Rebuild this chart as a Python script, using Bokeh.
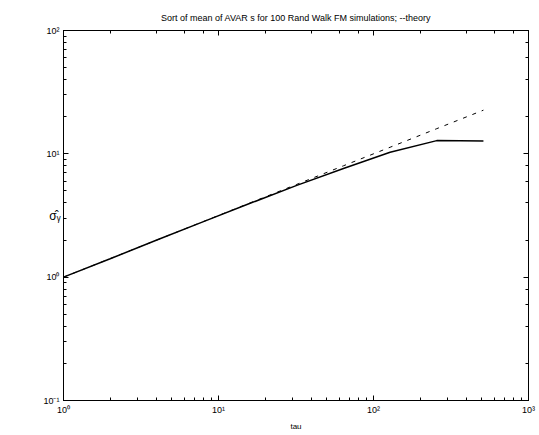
from bokeh.plotting import figure
from bokeh.models import LogAxis, CustomJSTickFormatter, Range1d, LogTicker
from bokeh.embed import file_html
from bokeh.resources import INLINE

# data
tau = [1, 2, 4, 8, 16, 32, 64, 128, 256, 512]
avar_mean = [1.0, 1.41, 2.0, 2.82, 3.97, 5.55, 7.6, 10.3, 12.8, 12.7]
theory = [1.0, 1.414, 2.0, 2.828, 4.0, 5.657, 8.0, 11.31, 16.0, 22.6]

title_text = "Sort of mean of AVAR s for 100 Rand Walk FM simulations; --theory"
x_label = "tau"
y_label = "\u03c3\u0302\u1d67"

FONT = "Liberation Sans"

p = figure(width=539, height=435, x_axis_type="log", y_axis_type="log",
           x_range=Range1d(1, 1000), y_range=Range1d(0.1, 100),
           output_backend="svg", toolbar_location=None,
           min_border_left=63, min_border_right=11, min_border_top=30,
           min_border_bottom=35)

p.title.text = title_text
p.title.align = "center"
p.title.text_font = FONT
p.title.text_font_size = "9px"
p.title.text_font_style = "normal"
p.title.text_color = "black"
p.title.standoff = 16

p.grid.visible = False
p.outline_line_color = "black"
p.outline_line_width = 1
p.background_fill_color = "white"
p.border_fill_color = "white"

fmt_code = """
const sup = {"-":"\u207b","0":"\u2070","1":"\u00b9","2":"\u00b2","3":"\u00b3",
             "4":"\u2074","5":"\u2075","6":"\u2076","7":"\u2077","8":"\u2078","9":"\u2079"};
const e = Math.round(Math.log10(tick));
return "10" + String(e).split("").map(c => sup[c]).join("");
"""

for ax in (p.xaxis[0], p.yaxis[0]):
    ax.formatter = CustomJSTickFormatter(code=fmt_code)
    ax.major_tick_in = 5
    ax.major_tick_out = 0
    ax.minor_tick_in = 3
    ax.minor_tick_out = 0
    ax.major_label_text_font = FONT
    ax.major_label_text_font_size = "9px"
    ax.major_label_text_color = "black"
    ax.major_label_standoff = 4
    ax.axis_line_color = "black"
    ax.major_tick_line_color = "black"
    ax.minor_tick_line_color = "black"
    ax.axis_label_text_color = "black"

p.xaxis.axis_label = x_label
p.xaxis.axis_label_text_font = FONT
p.xaxis.axis_label_text_font_size = "8px"
p.xaxis.axis_label_text_font_style = "normal"
p.xaxis.axis_label_standoff = 4

p.yaxis.axis_label = y_label
p.yaxis.axis_label_orientation = "horizontal"
p.yaxis.axis_label_text_font = FONT
p.yaxis.axis_label_text_font_size = "12px"
p.yaxis.axis_label_text_font_style = "normal"
p.yaxis.axis_label_standoff = -20

# mirrored tick marks on the right and top (no labels)
def mirror_axis():
    return LogAxis(ticker=LogTicker(), formatter=CustomJSTickFormatter(code="return ''"),
                   major_tick_in=5, major_tick_out=0, minor_tick_in=3, minor_tick_out=0,
                   major_label_standoff=0, major_label_text_font_size="1px",
                   axis_line_color="black", major_tick_line_color="black",
                   minor_tick_line_color="black")

p.add_layout(mirror_axis(), "right")
p.add_layout(mirror_axis(), "above")

p.line(tau, avar_mean, line_color="black", line_width=1.5)
p.line(tau, theory, line_color="black", line_width=1, line_dash="4 6")

open("out.html", "w").write(file_html(p, INLINE))
